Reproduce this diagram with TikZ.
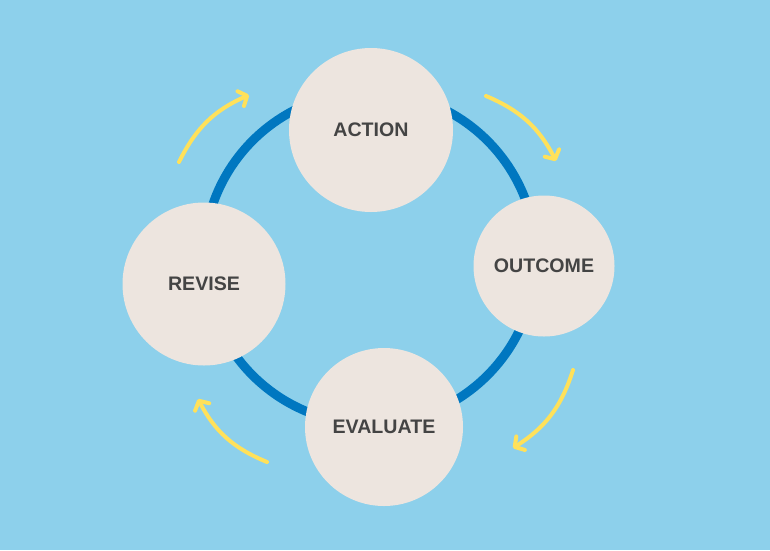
\documentclass[tikz,border=0pt]{standalone}
\usepackage{fontspec}
\setmainfont{Liberation Sans}
\usetikzlibrary{arrows.meta}
\definecolor{bgblue}{HTML}{8DD0EB}
\definecolor{ringblue}{HTML}{0077C0}
\definecolor{disc}{HTML}{EDE5DF}
\definecolor{sunny}{HTML}{FFE15A}
\definecolor{txt}{HTML}{444444}
\tikzset{
  stage/.style={circle, fill=disc, draw=none, inner sep=0pt,
    text=txt, font=\fontsize{19.6}{24}\selectfont\bfseries},
  flow/.style={draw=sunny, line width=4pt, line cap=round,
    -{Straight Barb[round,length=7pt,width=16pt]}}
}
\begin{document}
\begin{tikzpicture}[x=1pt,y=-1pt]
\fill[bgblue] (0,0) rectangle (770,550);
\useasboundingbox (0,0) rectangle (770,550);
\coordinate (hub) at (370,258);
\draw[ringblue, line width=9pt] (hub) circle[radius=166];
\node[stage, minimum size=164pt] (action) at (371,130) {ACTION};
\node[stage, minimum size=141pt] (outcome) at (544,266) {OUTCOME};
\node[stage, minimum size=158pt] (evaluate) at (384,427) {EVALUATE};
\node[stage, minimum size=163pt] (revise) at (204,284) {REVISE};
\coordinate (a1s) at (179,162); \coordinate (a1e) at (249,95);
\coordinate (a2s) at (486,96);  \coordinate (a2e) at (556,161);
\coordinate (a3s) at (573,370); \coordinate (a3e) at (513,448);
\coordinate (a4s) at (267,462); \coordinate (a4e) at (198,399);
\draw[flow] (a1s) to[bend left=20] (a1e);
\draw[flow] (a2s) to[bend left=20] (a2e);
\draw[flow] (a3s) to[bend left=20] (a3e);
\draw[flow] (a4s) to[bend left=20] (a4e);
\end{tikzpicture}
\end{document}
